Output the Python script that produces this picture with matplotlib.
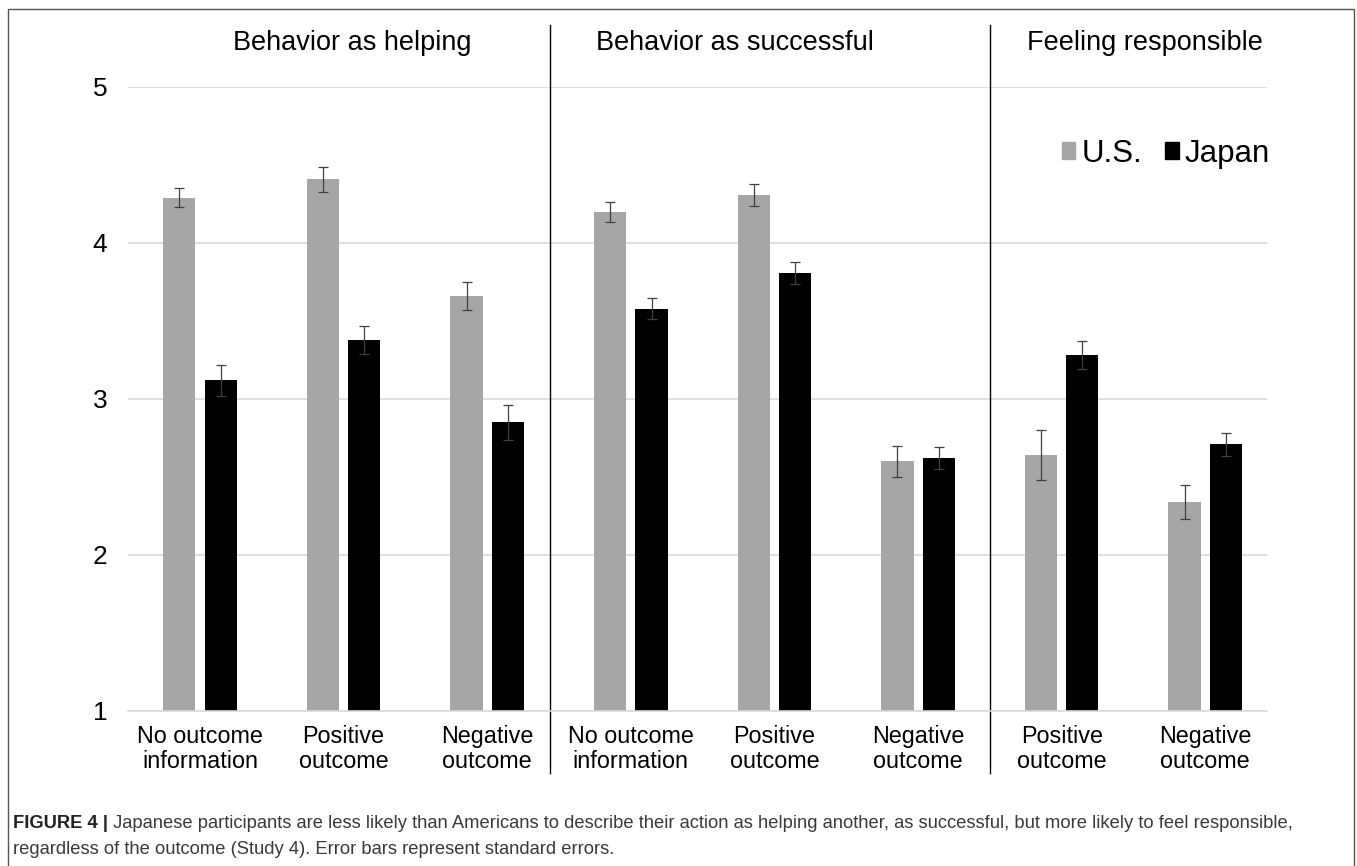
import matplotlib.pyplot as plt
from matplotlib.patches import Patch, Rectangle
from matplotlib import font_manager
import numpy as np

# data
categories = ["No outcome\ninformation", "Positive\noutcome", "Negative\noutcome",
              "No outcome\ninformation", "Positive\noutcome", "Negative\noutcome",
              "Positive\noutcome", "Negative\noutcome"]
panels = ["Behavior as helping", "Behavior as successful", "Feeling responsible"]
us_mean = [4.29, 4.41, 3.66, 4.20, 4.31, 2.60, 2.64, 2.34]
us_se = [0.06, 0.08, 0.09, 0.065, 0.07, 0.10, 0.16, 0.11]
japan_mean = [3.12, 3.38, 2.85, 3.58, 3.81, 2.62, 3.28, 2.71]
japan_se = [0.10, 0.09, 0.11, 0.07, 0.07, 0.07, 0.09, 0.075]
yticks = [1, 2, 3, 4, 5]

W, H = 1357, 866
FONT = ["Liberation Sans", "DejaVu Sans"]
names = {f.name for f in font_manager.fontManager.ttflist}
CAPFONT = ["Liberation Sans Narrow"] + FONT if "Liberation Sans Narrow" in names else FONT
plt.rcParams["font.family"] = FONT

fig = plt.figure(figsize=(W / 100, H / 100), dpi=100)
ax = fig.add_axes([128.2 / W, 1 - 711 / H, (1267 - 128.2) / W, 624 / H])

x = np.arange(len(categories))
bw = 0.225
off = 0.144
ax.bar(x - off, us_mean, bw, color="#a6a6a6", label="U.S.", zorder=2)
ax.bar(x + off, japan_mean, bw, color="black", label="Japan", zorder=2)
ax.errorbar(x - off, us_mean, yerr=us_se, fmt="none", ecolor="#404040",
            elinewidth=0.9, capsize=3.3, capthick=0.9, zorder=3)
ax.errorbar(x + off, japan_mean, yerr=japan_se, fmt="none", ecolor="#404040",
            elinewidth=0.9, capsize=3.3, capthick=0.9, zorder=3)

ax.set_ylim(1, 5)
ax.set_xlim(-0.5, 7.43)
ax.set_yticks(yticks)
ax.set_xticks(x)
ax.set_xticklabels(categories, fontsize=16.8, linespacing=1.1)
ax.tick_params(axis="y", length=0, pad=15, labelsize=19)
ax.tick_params(axis="x", length=0, pad=10)
ax.grid(axis="y", color="#d9d9d9", linewidth=1.2, zorder=0)
ax.set_axisbelow(True)
for s in ["top", "right", "left"]:
    ax.spines[s].set_visible(False)
ax.spines["bottom"].set_color("#d9d9d9")
ax.spines["bottom"].set_linewidth(1.2)

# panel separators and titles
for sx in [2.44, 5.5]:
    ax.plot([sx, sx], [1.1, -0.099], color="black", lw=1.0,
            transform=ax.get_xaxis_transform(), clip_on=False)
for px, name in zip([352, 735, 1145], panels):
    fig.text(px / W, 1 - 43 / H, name, fontsize=19.5, ha="center", va="center")

handles = [Patch(color="#a6a6a6", label="U.S."), Patch(color="black", label="Japan")]
fig.legend(handles=handles, loc="center right", bbox_to_anchor=(1270 / W, 1 - 154 / H),
           ncol=2, frameon=False, fontsize=22.5, handlelength=0.42, handleheight=0.45,
           handletextpad=0.2, columnspacing=0.75, borderpad=0, borderaxespad=0)

# outer frame
fig.patches.append(Rectangle((8 / W, -0.05), 1346 / W, 1 - 9 / H + 0.05,
                             transform=fig.transFigure, fill=False,
                             edgecolor="#555555", lw=1.0))

# caption
t = fig.text(13 / W, 1 - 823 / H, "FIGURE 4 |", fontsize=13.2, fontweight="bold",
             va="center", family=CAPFONT, color="#222222")
ax.annotate(" Japanese participants are less likely than Americans to describe their action "
            "as helping another, as successful, but more likely to feel responsible,",
            xy=(1, 0.5), xycoords=t, va="center", fontsize=13.2, family=CAPFONT,
            color="#3a3a3a", annotation_clip=False)
fig.text(13 / W, 1 - 850 / H, "regardless of the outcome (Study 4). Error bars represent standard errors.",
         fontsize=13.2, va="center", family=CAPFONT, color="#3a3a3a")

fig.savefig("out.png", dpi=100)
